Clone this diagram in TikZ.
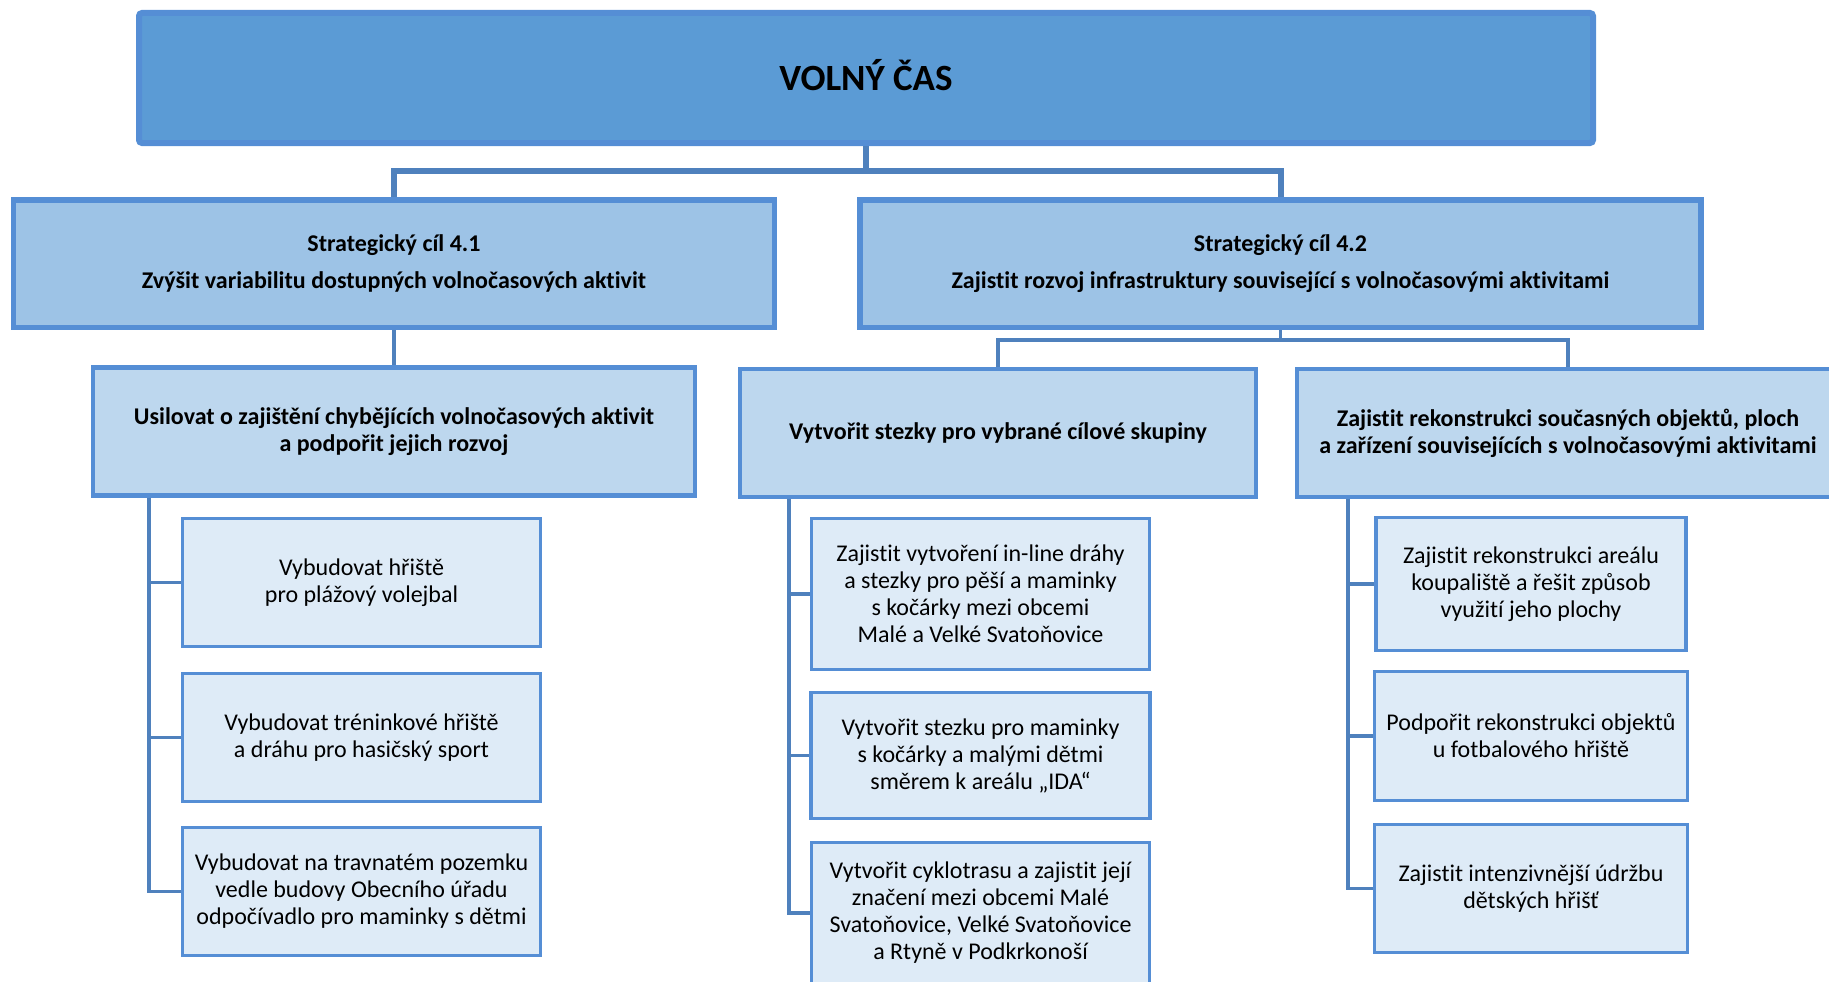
\documentclass[tikz,border=0pt]{standalone}
\usepackage{fontspec}
\setmainfont{Carlito}[Ligatures=NoCommon]
\usetikzlibrary{positioning}
\definecolor{boxline}{HTML}{558ED5}
\definecolor{wireblue}{HTML}{4F81BD}
\definecolor{topfill}{HTML}{5B9BD5}
\definecolor{aimfill}{HTML}{9DC3E6}
\definecolor{goalfill}{HTML}{BDD7EE}
\definecolor{taskfill}{HTML}{DEEBF7}
\begin{document}
\begin{tikzpicture}[x=1pt, y=-1pt,
    head node/.style={rectangle, draw=boxline, fill=topfill, line width=6pt, rounded corners=3pt, minimum width=1454pt, minimum height=130pt, text depth=7pt, font=\fontsize{37}{44}\selectfont\bfseries},
    aim node/.style={rectangle, draw=boxline, fill=aimfill, line width=5.5pt, minimum height=127.5pt, font=\fontsize{24}{27}\selectfont\bfseries},
    goal node/.style={rectangle, draw=boxline, fill=goalfill, line width=4.3pt, minimum height=128pt, font=\fontsize{24}{27}\selectfont\bfseries},
    task node/.style={rectangle, draw=boxline, fill=taskfill, line width=3.3pt, font=\fontsize{24}{27}\selectfont},
    wire/.style={draw=wireblue, line width=3.3pt}]
        \tikzstyle{every node}=[align=center]
        \useasboundingbox (0,0) rectangle (1829,982);
        \clip (0,0) rectangle (1829,982);

          \node[head node] (1) at (866,78) {VOLNÝ ČAS};
          \node[aim node, minimum width=761pt] (2) at (394,263.5) {Strategický cíl 4.1\\[10pt]Zvýšit variabilitu dostupných volnočasových aktivit};
          \node[aim node, minimum width=841pt] (3) at (1280.5,263.5) {Strategický cíl 4.2\\[10pt]Zajistit rozvoj infrastruktury související s volnočasovými aktivitami};

          \node[goal node, minimum width=602pt] (4) [below of=2, node distance=168pt] {Usilovat o zajištění chybějících volnočasových aktivit\\a podpořit jejich rozvoj};
          \node[goal node, minimum width=516pt] (5) at (998,433) {Vytvořit stezky pro vybrané cílové skupiny};
          \node[goal node, minimum width=542pt] (6) at (1568,433) {Zajistit rekonstrukci současných objektů, ploch\\a zařízení souvisejících s volnočasovými aktivitami};

          \node[task node, minimum width=358pt, minimum height=128pt] (7) at (361.5,582.5) {Vybudovat hřiště\\pro plážový volejbal};
          \node[task node, minimum width=358pt, minimum height=128pt] (8) [below of=7, node distance=155pt] {Vybudovat tréninkové hřiště\\a dráhu pro hasičský sport};
          \node[task node, minimum width=358pt, minimum height=128pt] (9) [below of=8, node distance=154pt] {Vybudovat na travnatém pozemku\\vedle budovy Obecního úřadu\\odpočívadlo pro maminky s dětmi};

          \node[task node, minimum width=338pt, minimum height=151pt] (10) at (980.5,594) {Zajistit vytvoření in-line dráhy\\a stezky pro pěší a maminky\\s kočárky mezi obcemi\\Malé a Velké Svatoňovice};
          \node[task node, minimum width=339pt, minimum height=126pt] (11) [below of=10, node distance=161.5pt] {Vytvořit stezku pro maminky\\s kočárky a malými dětmi\\směrem k areálu „IDA“};
          \node[task node, minimum width=338pt, minimum height=141pt] (12) [below of=11, node distance=157.5pt] {Vytvořit cyklotrasu a zajistit její\\značení mezi obcemi Malé\\Svatoňovice, Velké Svatoňovice\\a Rtyně v Podkrkonoší};

          \node[task node, minimum width=310pt, minimum height=133pt] (13) at (1531,584) {Zajistit rekonstrukci areálu\\koupaliště a řešit způsob\\využití jeho plochy};
          \node[task node, minimum width=313pt, minimum height=129pt] (14) [below of=13, node distance=152pt] {Podpořit rekonstrukci objektů\\u fotbalového hřiště};
          \node[task node, minimum width=313pt, minimum height=128pt] (15) [below of=14, node distance=152.5pt] {Zajistit intenzivnější údržbu\\dětských hřišť};

          % top level
          \coordinate (j1) at (866,171);
          \draw[wire, line width=6pt] (1.south) -- (j1) -| (2.north);
          \draw[wire, line width=6pt] (j1) -| (3.north);
          % strategic aims
          \draw[wire, line width=4pt] (2.south) -- (4.north);
          \coordinate (j2) at (1280.5,340);
          \draw[wire] (3.south) -- (j2) -| (5.north);
          \draw[wire] (j2) -| (6.north);
          % tasks
          \draw[wire] (4.south west) ++(58,0) coordinate (b1) |- (9.west);
          \draw[wire] (b1) |- (7.west);
          \draw[wire] (b1) |- (8.west);
          \draw[wire] (5.south west) ++(51,0) coordinate (b2) |- (12.west);
          \draw[wire] (b2) |- (10.west);
          \draw[wire] (b2) |- (11.west);
          \draw[wire] (6.south west) ++(53,0) coordinate (b3) |- (15.west);
          \draw[wire] (b3) |- (13.west);
          \draw[wire] (b3) |- (14.west);

\end{tikzpicture}
\end{document}
